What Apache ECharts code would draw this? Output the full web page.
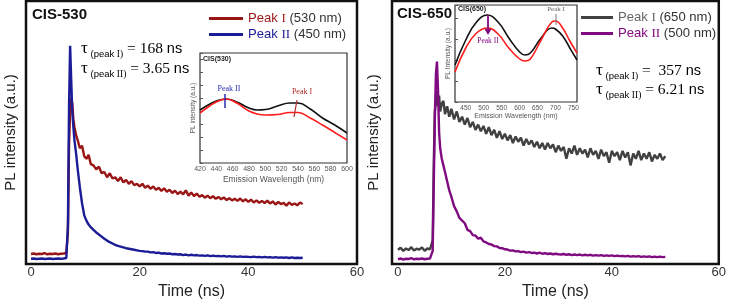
<!DOCTYPE html>
<html><head><meta charset="utf-8">
<script src="https://cdn.jsdelivr.net/npm/echarts@6/dist/echarts.min.js"></script>
<style>html,body{margin:0;padding:0;background:#fff}#c{width:729px;height:305px}</style>
</head><body><div id="c"></div>
<script>
// ---------- DATA ----------
const xTicks = [0, 20, 40, 60];
const insetTicksL = [420, 440, 460, 480, 500, 520, 540, 560, 580, 600];
const insetTicksR = [450, 500, 550, 600, 650, 700, 750];

// Left panel (CIS-530) time axis (ns)
const timeL = [0,0.5,1,1.5,2,2.5,3,3.5,4,4.5,5,5.5,6,6.5,
  6.8,7.0,7.2,7.4,7.6,7.8,8.0,8.3,8.6,9.0,9.4,9.8,10.2,10.6,
  11,11.5,12,12.5,13,13.5,14,14.5,15,15.5,16,16.5,17,17.5,18,18.5,19,19.5,20,
  20.5,21,21.5,22,22.5,23,23.5,24,24.5,25,25.5,26,26.5,27,27.5,28,28.5,29,29.5,30,
  30.5,31,31.5,32,32.5,33,33.5,34,34.5,35,35.5,36,36.5,37,37.5,38,38.5,39,39.5,40,
  40.5,41,41.5,42,42.5,43,43.5,44,44.5,45,45.5,46,46.5,47,47.5,48,48.5,49,49.5,50];
// Peak I (530 nm)
const peak1L = [3.8,4.0,3.7,3.9,3.8,4.1,3.7,3.9,3.8,4.0,3.7,3.9,4.0,4.2,
  12,45,58,63,61,55,52,49,47,44,45,41,40,41.5,
  38,37.5,36,37,34.5,35,33,34.5,32.5,33,31.5,33,31,32,30.5,31.5,30,30.5,29.5,
  30.5,29,29.8,28.6,29.5,28.2,29,27.8,28.8,27.5,28.2,27,27.9,26.6,27.5,26.5,28,26,27.2,25.8,
  26.8,25.6,26.2,25.2,26,25,25.8,24.8,25.5,24.6,25.3,24.3,25,24.2,24.8,24,24.9,23.8,24.6,23.6,
  24.5,23.4,24.2,23.3,24,23.2,24.1,23,23.8,22.6,23.6,22.8,23.2,22.2,23.4,22.5,23,22.3,23.4,22.8];
// Peak II (450 nm)
const peak2L = [2.0,2.1,1.9,2.0,2.1,1.9,2.0,2.1,1.9,2.0,2.1,2.0,2.1,2.3,
  15,60,83,70,58,52,47,42,36,29,23,18.5,16.5,15,
  14,13,12,11.2,10.4,9.6,8.9,8.3,7.8,7.3,6.9,6.6,6.3,6.0,5.8,5.6,5.4,5.2,5.0,
  4.9,4.7,4.7,4.4,4.5,4.2,4.3,4.0,4.1,3.9,4.0,3.7,3.8,3.6,3.7,3.4,3.6,3.3,3.5,3.3,
  3.4,3.2,3.3,3.1,3.3,3.0,3.2,3.0,3.1,2.9,3.1,2.8,3.0,2.8,2.9,2.7,2.9,2.7,2.8,2.7,
  2.6,2.8,2.6,2.7,2.5,2.7,2.5,2.6,2.4,2.6,2.4,2.5,2.4,2.5,2.3,2.5,2.3,2.4,2.3,2.4];

// Right panel (CIS-650) time axis (ns)
const timeR = [0,0.5,1,1.5,2,2.5,3,3.5,4,4.5,5,5.5,6,
  6.3,6.5,6.7,6.9,7.1,7.3,7.5,7.7,7.9,8.2,8.5,8.8,9.2,9.6,10,10.5,
  11,11.5,12,12.5,13,13.5,14,14.5,15,15.5,16,16.5,17,17.5,18,18.5,19,19.5,20,
  20.5,21,21.5,22,22.5,23,23.5,24,24.5,25,25.5,26,26.5,27,27.5,28,28.5,29,29.5,30,
  30.5,31,31.5,32,32.5,33,33.5,34,34.5,35,35.5,36,36.5,37,37.5,38,38.5,39,39.5,40,
  40.5,41,41.5,42,42.5,43,43.5,44,44.5,45,45.5,46,46.5,47,47.5,48,48.5,49,49.5,50];
// Peak I (650 nm)
const peak1R = [5.4,6.2,5.0,5.9,5.3,6.4,5.1,5.8,5.5,6.3,5.0,5.9,5.6,
  6.0,9,38,58,62,66,60,64,58,61,62,57,60,56,59,55,
  58,54,56,53,55.5,52,54,51,53,50.5,52.5,49.5,52,49,51,48,50.5,47.5,49.5,
  47,49,46,48.5,46.5,48,45,47.5,45.5,47,44.5,46.5,44,46,43.5,46,44,45.5,42.5,45,
  43,44.5,40,44,42,45,41.5,44,42,43.5,40.5,44,41.5,43,40,43.5,41,42.5,38.5,43,
  41,42.5,39.5,43,40.5,42.5,37.5,42,40,43,39.5,42,40,42.5,39,41.5,40,42,39.5,41];
// Peak II (500 nm)
const peak2R = [1.8,2.1,1.7,2.0,1.9,2.2,1.8,2.0,1.9,2.1,1.8,2.0,2.1,
  2.3,5,30,55,72,77,66,50,44,40,37.5,35,31.5,28,25.5,22,
  20,17.5,16.5,15.5,13,12.5,11,10.8,9.6,10,8.6,8.2,7.6,7.4,6.8,6.7,6.1,6.0,5.6,
  5.5,5.1,5.2,4.8,4.9,4.5,4.7,4.3,4.5,4.2,4.3,4.0,4.3,3.9,4.1,3.8,4.0,3.7,3.9,3.7,
  3.6,3.8,3.5,3.7,3.4,3.6,3.4,3.6,3.3,3.5,3.3,3.5,3.2,3.4,3.2,3.4,3.1,3.3,3.1,3.3,
  3.0,3.2,3.0,3.1,2.9,3.1,2.8,3.0,2.8,3.0,2.7,2.9,2.7,2.9,2.6,2.8,2.6,2.8,2.6,2.7];

// Inset CIS(530): emission spectra
const wlL = [420,430,440,452,465,480,490,500,515,530,540,555,570,585,600];
const specBlackL = [53,58,62,64,61,55,53,53.5,57,60,60,54,45,38,30];
const specRedL   = [50,56,61,64,60,52,49,48,48.5,50.5,50.5,45,38,30.5,23];
// Inset CIS(650): emission spectra
const wlR = [420,450,480,510,540,570,600,615,630,660,690,700,720,740,760];
const specBlackR = [37,62,80,87,80,64,50,47,49,64,74,73,66,54,42];
const specRedR   = [30,54,69,74,68,54,43,41,43,62,80,81,74,61,49];

// ---------- CHART ----------
const SANS = '"Liberation Sans", Arial, sans-serif';
const SERIF = '"Liberation Serif", "Times New Roman", serif';
const C = {red:'#9a1616', blue:'#1c1c96', gray:'#414141', purple:'#800a80', ired:'#ff1e1e', iblack:'#111'};
function zip(t, v) { return t.map((x, i) => [x, v[i]]); }

const legendInfo = {
  'Peak I (530 nm)':  ['r', 'I',  ' (530 nm)'],
  'Peak II (450 nm)': ['b', 'II', ' (450 nm)'],
  'Peak I (650 nm)':  ['k', 'I',  ' (650 nm)'],
  'Peak II (500 nm)': ['p', 'II', ' (500 nm)']
};
const LF = 13.1, LH = 16;
const legRich = {
  r:{color:C.red,fontSize:LF,fontFamily:SANS,lineHeight:LH}, rs:{color:C.red,fontSize:LF,fontFamily:SERIF,lineHeight:LH},
  b:{color:C.blue,fontSize:LF,fontFamily:SANS,lineHeight:LH}, bs:{color:C.blue,fontSize:LF,fontFamily:SERIF,lineHeight:LH},
  k:{color:'#666',fontSize:LF,fontFamily:SANS,lineHeight:LH}, ks:{color:'#666',fontSize:LF,fontFamily:SERIF,lineHeight:LH},
  p:{color:C.purple,fontSize:LF,fontFamily:SANS,lineHeight:LH}, ps:{color:C.purple,fontSize:LF,fontFamily:SERIF,lineHeight:LH},
  g:{color:'#333',fontSize:LF,fontFamily:SANS,lineHeight:LH}
};
function legFmt(name) {
  const f = legendInfo[name];
  return '{' + f[0] + '|Peak }{' + f[0] + 's|' + f[1] + '}{g|' + f[2] + '}';
}

function mainX(grid, min) {
  return {gridIndex:grid, type:'value', min:min, max:60,
    axisLabel:{customValues:xTicks, fontSize:13, color:'#333', margin:2, fontFamily:SANS},
    axisTick:{show:false}, axisLine:{show:false}, splitLine:{show:false},
    name:'Time (ns)', nameLocation:'middle', nameGap:20,
    nameTextStyle:{fontSize:16, color:'#222', fontFamily:SANS}};
}
function mainY(grid, gap) {
  return {gridIndex:grid, type:'value', min:0, max:100,
    axisLabel:{show:false}, axisTick:{show:false}, axisLine:{show:false}, splitLine:{show:false},
    name:'PL intensity (a.u.)', nameLocation:'middle', nameGap:gap,
    nameTextStyle:{fontSize:15, color:'#222', fontFamily:SANS}};
}
function mainSeries(name, xi, data, color) {
  return {name:name, type:'line', xAxisIndex:xi, yAxisIndex:xi, data:data, showSymbol:false,
    lineStyle:{color:color, width:2.4}, itemStyle:{color:color}, z:2};
}
function insetSeries(xi, data, color) {
  return {type:'line', xAxisIndex:xi, yAxisIndex:xi, data:data, showSymbol:false, smooth:0.45,
    lineStyle:{color:color, width:1.6}, itemStyle:{color:color}, z:12, silent:true};
}

const tauRich = function(subColor) {
  return {
    t:{fontFamily:SERIF, fontSize:17, color:'#111', lineHeight:20},
    s:{fontFamily:SANS, fontSize:9.5, color:subColor, lineHeight:9, verticalAlign:'bottom'},
    sr:{fontFamily:SERIF, fontSize:9.5, color:subColor, lineHeight:9, verticalAlign:'bottom'},
    sp:{fontFamily:SERIF, fontSize:9.5, color:'#111', lineHeight:9, verticalAlign:'bottom'},
    e:{fontFamily:SERIF, fontSize:15.5, color:'#111', lineHeight:20},
    n:{fontFamily:SANS, fontSize:14.5, color:'#111', lineHeight:20}
  };
};
function tau(x, y, num, val, col) {
  return {type:'text', x:x, y:y, z:100,
    style:{text:'{t|τ}{s| (peak }{sr|' + num + '}{sp|)}{e| = ' + val + ' }{n|ns}', rich:tauRich(col)}};
}
function txt(x, y, s, font, color, align) {
  return {type:'text', x:x, y:y, z:100,
    style:{text:s, font:font, fill:color, align:align||'left', textAlign:align||'left', verticalAlign:'middle', textVerticalAlign:'middle'}};
}
function seg(x1, y1, x2, y2, color, w) {
  return {type:'line', z:100, shape:{x1:x1, y1:y1, x2:x2, y2:y2}, style:{stroke:color, lineWidth:w}};
}

const option = {
  animation:false,
  backgroundColor:'#fff',
  grid:[
    {left:26, top:1, width:331, height:266, show:true, borderColor:'#111', borderWidth:2.5, backgroundColor:'transparent'},
    {left:392, top:1, width:330, height:266, show:true, borderColor:'#111', borderWidth:2.5, backgroundColor:'transparent'},
    {left:200, top:53, width:147, height:110, show:true, borderColor:'#333', borderWidth:1.2, backgroundColor:'#fff', z:10},
    {left:455, top:5, width:122, height:97, show:true, borderColor:'#333', borderWidth:1.2, backgroundColor:'#fff', z:10}
  ],
  xAxis:[
    mainX(0, -0.92),
    mainX(1, -1.11),
    {gridIndex:2, type:'value', min:420, max:600, interval:20, z:11,
      axisLabel:{fontSize:7, color:'#555', margin:3, fontFamily:SANS}, axisTick:{show:false}, axisLine:{show:false}, splitLine:{show:false},
      name:'Emission Wavelength (nm)', nameLocation:'middle', nameGap:12, nameTextStyle:{fontSize:8.5, color:'#555', fontFamily:SANS}},
    {gridIndex:3, type:'value', min:420, max:760, z:11,
      axisLabel:{customValues:insetTicksR, fontSize:6.5, color:'#555', margin:3, fontFamily:SANS}, axisTick:{show:false}, axisLine:{show:false}, splitLine:{show:false},
      name:'Emission Wavelength (nm)', nameLocation:'middle', nameGap:10, nameTextStyle:{fontSize:7, color:'#555', fontFamily:SANS}}
  ],
  yAxis:[
    mainY(0, 8),
    mainY(1, 11),
    {gridIndex:2, type:'value', min:0, max:110, interval:13, z:11,
      axisLabel:{show:false}, axisTick:{show:true, inside:true, length:3, lineStyle:{color:'#555'}}, axisLine:{show:false}, splitLine:{show:false},
      name:'PL intensity (a.u.)', nameLocation:'middle', nameGap:3, nameTextStyle:{fontSize:6.5, color:'#555', fontFamily:SANS}},
    {gridIndex:3, type:'value', min:0, max:97, interval:21, z:11,
      axisLabel:{show:false}, axisTick:{show:true, inside:true, length:3, lineStyle:{color:'#555'}}, axisLine:{show:false}, splitLine:{show:false},
      name:'PL Intensity (a.u.)', nameLocation:'middle', nameGap:3, nameTextStyle:{fontSize:6.5, color:'#555', fontFamily:SANS}}
  ],
  legend:[
    {data:['Peak I (530 nm)','Peak II (450 nm)'], left:204, top:7, orient:'vertical', icon:'rect',
      itemWidth:34, itemHeight:3, itemGap:3, formatter:legFmt, textStyle:{rich:legRich}},
    {data:['Peak I (650 nm)','Peak II (500 nm)'], left:576, top:6, orient:'vertical', icon:'rect',
      itemWidth:32, itemHeight:3, itemGap:3, formatter:legFmt, textStyle:{rich:legRich}}
  ],
  series:[
    mainSeries('Peak I (530 nm)', 0, zip(timeL, peak1L), C.red),
    mainSeries('Peak II (450 nm)', 0, zip(timeL, peak2L), C.blue),
    mainSeries('Peak I (650 nm)', 1, zip(timeR, peak1R), C.gray),
    mainSeries('Peak II (500 nm)', 1, zip(timeR, peak2R), C.purple),
    insetSeries(2, zip(wlL, specBlackL), C.iblack),
    insetSeries(2, zip(wlL, specRedL), C.ired),
    insetSeries(3, zip(wlR, specBlackR), C.iblack),
    insetSeries(3, zip(wlR, specRedR), C.ired)
  ],
  graphic:[
    txt(32, 15, 'CIS-530', 'bold 15px ' + SANS, '#111'),
    txt(397, 14, 'CIS-650', 'bold 15px ' + SANS, '#111'),
    tau(81, 39, 'I', '168', '#c02a2a'),
    tau(81, 59, 'II', '3.65', '#2a2aa8'),
    tau(596, 61, 'I', ' 357', '#555'),
    tau(596, 80, 'II', '6.21', C.purple),
    txt(203, 59, 'CIS(530)', 'bold 7px ' + SANS, '#222'),
    txt(458, 9, 'CIS(650)', 'bold 7px ' + SANS, '#222'),
    txt(229, 89, 'Peak II', '8px ' + SERIF, '#2a2ab0', 'center'),
    seg(225, 94, 225, 108, '#2a2ab0', 1.5),
    txt(302, 92, 'Peak I', '8px ' + SERIF, '#b02a2a', 'center'),
    seg(297, 100, 294, 117, '#b02a2a', 1.2),
    seg(488, 15, 488, 30, C.purple, 1.8),
    {type:'polygon', z:100, shape:{points:[[484.5,29],[491.5,29],[488,35]]}, style:{fill:C.purple}},
    txt(488, 41, 'Peak II', '7.5px ' + SERIF, C.purple, 'center'),
    txt(556, 9, 'Peak I', '7px ' + SERIF, '#666', 'center'),
    seg(556, 14, 556, 25, '#777', 1)
  ]
};
const chart = echarts.init(document.getElementById('c'));
chart.setOption(option);
</script>
</body></html>
